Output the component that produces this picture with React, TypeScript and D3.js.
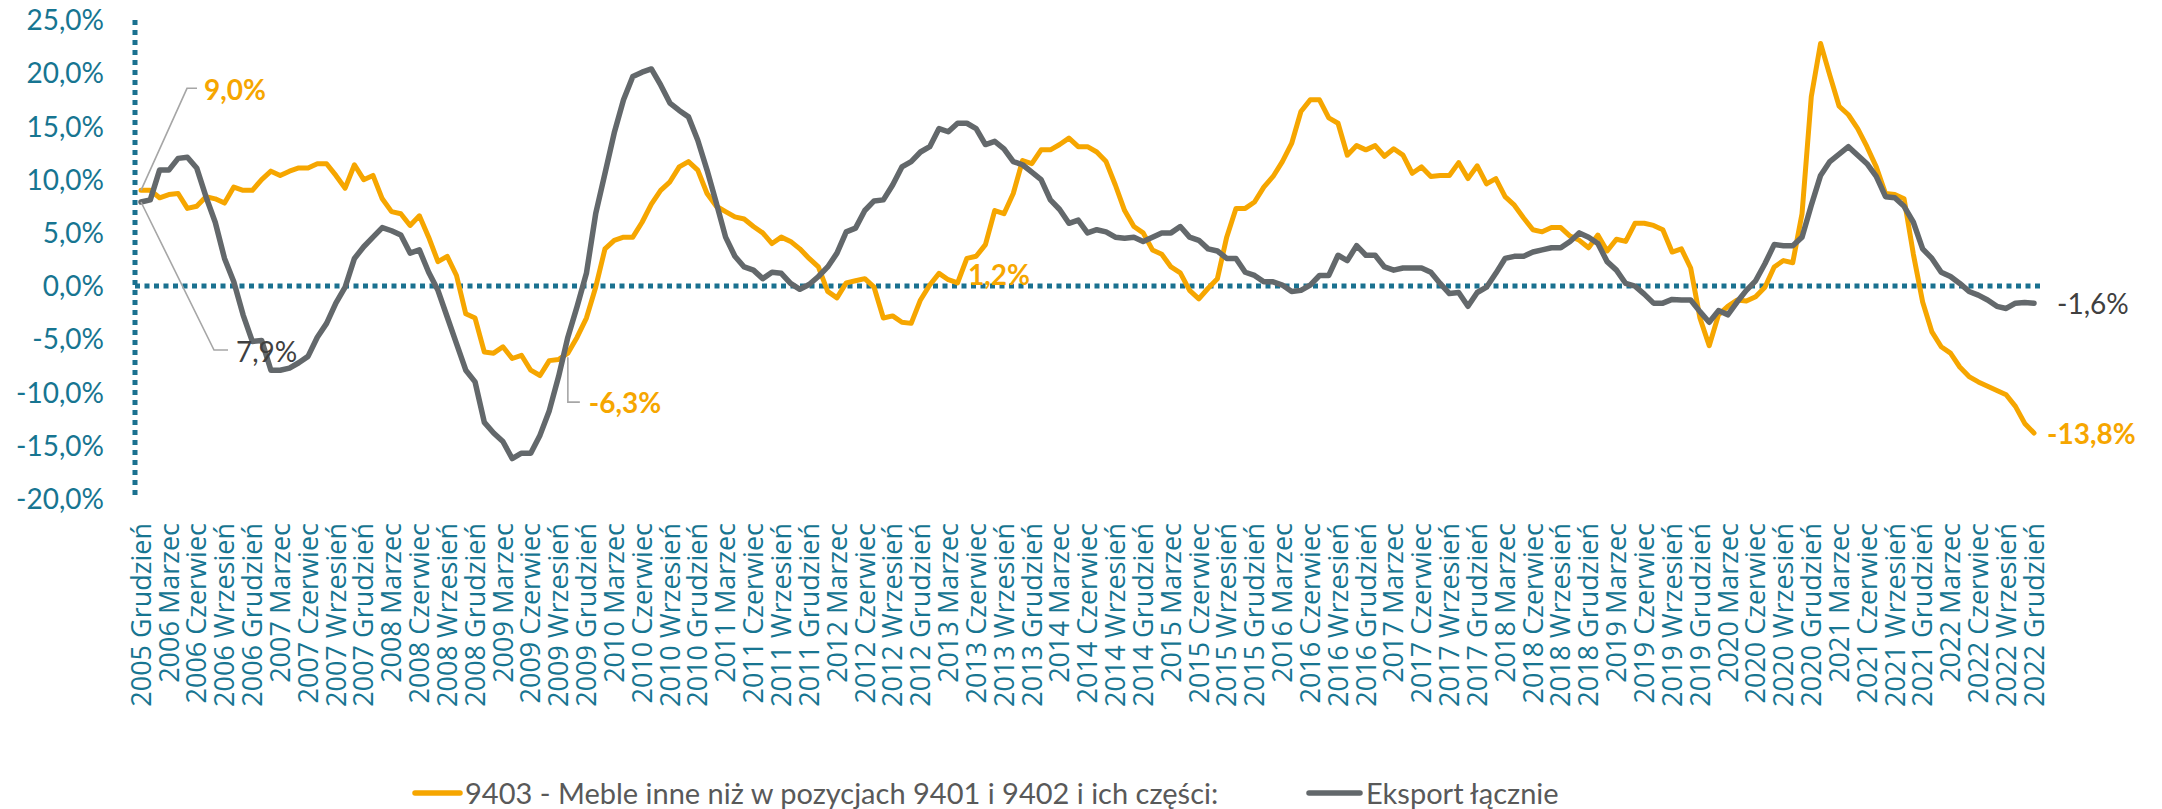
import React from 'react';
import * as d3 from 'd3';

// ---------- DATA ----------
const startYear = 2005;
const monthNames = ['Styczeń', 'Luty', 'Marzec', 'Kwiecień', 'Maj', 'Czerwiec', 'Lipiec', 'Sierpień', 'Wrzesień', 'Październik', 'Listopad', 'Grudzień'];
// monthly categories from 2005 Grudzień to 2022 Grudzień
const categories: string[] = [];
for (let k = 0; k < 205; k++) {
  const m = 11 + k;
  categories.push(`${startYear + Math.floor(m / 12)} ${monthNames[m % 12]}`);
}

// 9403 - Meble inne niż w pozycjach 9401 i 9402 i ich części (% y/y)
const meble: number[] = [
  9.0, 9.0, 8.3, 8.6, 8.7, 7.3, 7.5, 8.4, 8.2, 7.8,
  9.3, 9.0, 9.0, 10.0, 10.8, 10.4, 10.8, 11.1, 11.1, 11.5,
  11.5, 10.4, 9.2, 11.4, 10.0, 10.4, 8.2, 7.0, 6.8, 5.7,
  6.6, 4.6, 2.3, 2.8, 1.0, -2.6, -3.0, -6.2, -6.3, -5.7,
  -6.8, -6.5, -7.9, -8.4, -7.0, -6.9, -6.3, -4.8, -3.0, -0.1,
  3.5, 4.3, 4.6, 4.6, 6.0, 7.7, 9.0, 9.8, 11.2, 11.7,
  10.9, 8.7, 7.5, 7.0, 6.5, 6.3, 5.6, 5.0, 4.0, 4.6,
  4.2, 3.5, 2.6, 1.8, -0.5, -1.1, 0.3, 0.5, 0.7, -0.1,
  -3.0, -2.8, -3.4, -3.5, -1.3, 0.1, 1.2, 0.6, 0.3, 2.6,
  2.8, 3.9, 7.1, 6.8, 8.7, 11.8, 11.5, 12.8, 12.8, 13.3,
  13.9, 13.1, 13.1, 12.6, 11.7, 9.5, 7.1, 5.6, 5.0, 3.4,
  3.0, 1.8, 1.25, -0.4, -1.2, -0.2, 0.7, 4.6, 7.3, 7.3,
  7.9, 9.3, 10.3, 11.7, 13.4, 16.4, 17.5, 17.5, 15.8, 15.3,
  12.3, 13.2, 12.8, 13.2, 12.2, 12.9, 12.3, 10.6, 11.2, 10.3,
  10.4, 10.4, 11.6, 10.1, 11.3, 9.6, 10.1, 8.4, 7.6, 6.4,
  5.3, 5.1, 5.5, 5.5, 4.7, 4.3, 3.6, 4.8, 3.3, 4.4,
  4.2, 5.9, 5.9, 5.7, 5.3, 3.2, 3.5, 1.7, -3.0, -5.6,
  -2.7, -1.9, -1.3, -1.4, -1.0, -0.1, 1.8, 2.4, 2.2, 6.8,
  17.8, 22.8, 19.8, 16.9, 16.1, 14.8, 13.1, 11.2, 8.7, 8.6,
  8.2, 3.0, -1.5, -4.3, -5.7, -6.3, -7.6, -8.5, -9.0, -9.4,
  -9.8, -10.2, -11.3, -12.9, -13.8,
];

// Eksport łącznie (% y/y)
const eksport: number[] = [
  7.9, 8.1, 10.9, 10.9, 12.0, 12.1, 11.1, 8.4, 6.0, 2.6,
  0.4, -2.7, -5.2, -5.1, -7.9, -7.9, -7.7, -7.2, -6.6, -4.8,
  -3.5, -1.6, -0.1, 2.6, 3.7, 4.6, 5.5, 5.2, 4.8, 3.1,
  3.4, 1.3, -0.4, -2.9, -5.4, -7.9, -9.0, -12.8, -13.8, -14.6,
  -16.2, -15.7, -15.7, -14.0, -11.7, -8.5, -4.8, -1.9, 1.2, 6.8,
  10.6, 14.4, 17.5, 19.7, 20.1, 20.4, 18.9, 17.2, 16.5, 15.9,
  13.7, 10.9, 7.8, 4.6, 2.8, 1.8, 1.5, 0.7, 1.3, 1.2,
  0.25, -0.3, 0.15, 0.9, 1.8, 3.1, 5.1, 5.45, 7.1, 8.0,
  8.1, 9.5, 11.2, 11.7, 12.6, 13.1, 14.8, 14.5, 15.3, 15.3,
  14.8, 13.3, 13.6, 12.9, 11.7, 11.4, 10.7, 10.0, 8.1, 7.2,
  5.9, 6.2, 5.0, 5.3, 5.1, 4.6, 4.5, 4.6, 4.2, 4.6,
  5.0, 5.0, 5.6, 4.6, 4.3, 3.5, 3.3, 2.6, 2.6, 1.3,
  1.0, 0.4, 0.4, 0.1, -0.5, -0.4, 0.1, 1.0, 1.0, 2.9,
  2.4, 3.8, 2.9, 2.9, 1.8, 1.5, 1.7, 1.7, 1.7, 1.3,
  0.25, -0.7, -0.6, -1.9, -0.6, -0.1, 1.2, 2.6, 2.8, 2.8,
  3.2, 3.4, 3.6, 3.6, 4.2, 5.0, 4.6, 4.0, 2.3, 1.5,
  0.25, 0.0, -0.75, -1.6, -1.6, -1.25, -1.3, -1.3, -2.4, -3.4,
  -2.3, -2.7, -1.5, -0.4, 0.5, 2.1, 3.9, 3.8, 3.8, 4.6,
  7.6, 10.4, 11.7, 12.4, 13.1, 12.3, 11.5, 10.3, 8.4, 8.3,
  7.5, 6.0, 3.5, 2.6, 1.3, 0.9, 0.25, -0.5, -0.85, -1.3,
  -1.9, -2.1, -1.6, -1.55, -1.6,
];

const yTicks: number[] = [-20, -15, -10, -5, 0, 5, 10, 15, 20, 25];
const seriesNames: string[] = ['9403 - Meble inne niż w pozycjach 9401 i 9402 i ich części:', 'Eksport łącznie'];

// ---------- STYLE ----------
const W = 2162;
const H = 809;
const ORANGE = '#F6A600';
const GREY = '#63686B';
const TEAL = '#177591';
const AXIS = '#1A7190';
const LABEL_DARK = '#404040';
const LEGEND_TEXT = '#595959';
const LEADER = '#A6A6A6';

const fmtPct = (v: number) => `${v.toFixed(1).replace('.', ',')}%`;

export default function App() {
  const x = d3.scalePoint<string>().domain(categories).range([141, 2034]);
  const y = d3.scaleLinear().domain([-20, 25]).range([499, 20]);
  const xi = (i: number) => x(categories[i]) as number;

  const line = d3
    .line<number>()
    .x((_, i) => xi(i))
    .y((d) => y(d));

  const axisX = 135;
  const plotRight = 2040;

  const last = categories.length - 1;

  // data labels with leader lines
  const p0o = { x: xi(0), y: y(meble[0]) };
  const p0g = { x: xi(0), y: y(eksport[0]) };
  const p46 = { x: xi(46), y: y(meble[46]) };
  const p86 = { x: xi(86), y: y(meble[86]) };
  const pLo = { x: xi(last), y: y(meble[last]) };
  const pLg = { x: xi(last), y: y(eksport[last]) };

  return (
    <svg
      width={W}
      height={H}
      viewBox={`0 0 ${W} ${H}`}
      style={{ position: 'absolute', left: 0, top: 0, display: 'block', background: '#fff' }}
    >
      {/* y tick labels */}
      <g fontFamily="Lato, 'Open Sans', sans-serif" fontSize={28} fill={TEAL}>
        {yTicks.map((t) => (
          <text key={t} x={104} y={y(t)} dy="0.36em" textAnchor="end">
            {fmtPct(t)}
          </text>
        ))}
      </g>

      {/* axes (dotted) */}
      <line x1={axisX} x2={axisX} y1={y(25)} y2={y(-20)} stroke={AXIS} strokeWidth={5} strokeDasharray="5 5" />
      <line x1={axisX} x2={plotRight} y1={y(0)} y2={y(0)} stroke={AXIS} strokeWidth={5} strokeDasharray="5 4.5" />

      {/* x tick labels */}
      <g fontFamily="'Open Sans', 'DejaVu Sans', sans-serif" fontSize={27} fill={TEAL}>
        {categories.map((c, i) =>
          i % 3 === 0 ? (
            <text key={c} transform={`translate(${xi(i)},523) rotate(-90)`} textAnchor="end" dy="0.36em">
              {c}
            </text>
          ) : null
        )}
      </g>

      {/* series */}
      <path d={line(meble) || ''} fill="none" stroke={ORANGE} strokeWidth={5} strokeLinejoin="round" strokeLinecap="round" />
      <path d={line(eksport) || ''} fill="none" stroke={GREY} strokeWidth={5.5} strokeLinejoin="round" strokeLinecap="round" />

      {/* leader lines */}
      <g stroke={LEADER} strokeWidth={1.6} fill="none">
        <polyline points={`${p0o.x},${p0o.y} ${p0o.x + 46},${p0o.y - 102} ${p0o.x + 56},${p0o.y - 102}`} />
        <polyline points={`${p0g.x},${p0g.y} ${p0g.x + 73},${p0g.y + 148} ${p0g.x + 87},${p0g.y + 148}`} />
        <polyline points={`${p46.x},${p46.y + 4} ${p46.x},${p46.y + 49} ${p46.x + 12},${p46.y + 49}`} />
      </g>

      {/* data labels */}
      <g fontFamily="Lato, 'Open Sans', sans-serif" fontSize={28}>
        <text x={p0o.x + 63} y={p0o.y - 100} dy="0.36em" fill={ORANGE} fontWeight="bold">{fmtPct(meble[0])}</text>
        <text x={p0g.x + 95} y={p0g.y + 150} dy="0.36em" fill={LABEL_DARK}>{fmtPct(eksport[0])}</text>
        <text x={p46.x + 21} y={p46.y + 50} dy="0.36em" fill={ORANGE} fontWeight="bold">{fmtPct(meble[46])}</text>
        <text x={p86.x + 29} y={p86.y + 2} dy="0.36em" fill={ORANGE} fontWeight="bold">{fmtPct(meble[86])}</text>
        <text x={pLg.x + 23} y={pLg.y + 1} dy="0.36em" fill={LABEL_DARK}>{fmtPct(eksport[last])}</text>
        <text x={pLo.x + 13} y={pLo.y + 1} dy="0.36em" fill={ORANGE} fontWeight="bold">{fmtPct(meble[last])}</text>
      </g>

      {/* legend */}
      <g fontFamily="Lato, 'Open Sans', sans-serif" fontSize={29} fill={LEGEND_TEXT}>
        <line x1={415} x2={460} y1={793} y2={793} stroke={ORANGE} strokeWidth={5.5} strokeLinecap="round" />
        <text x={465} y={804}>{seriesNames[0]}</text>
        <line x1={1309} x2={1360} y1={793} y2={793} stroke={GREY} strokeWidth={5.5} strokeLinecap="round" />
        <text x={1366} y={804}>{seriesNames[1]}</text>
      </g>
    </svg>
  );
}
